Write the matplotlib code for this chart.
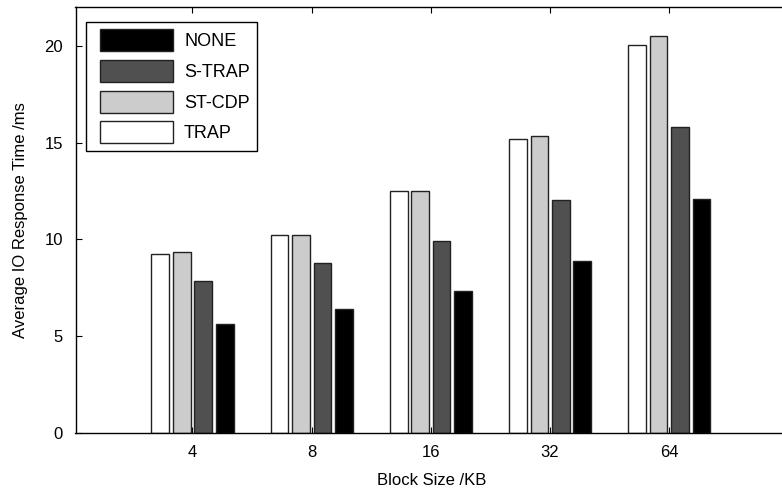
import matplotlib
matplotlib.use("Agg")
import matplotlib.pyplot as plt
from matplotlib.patches import Rectangle
from matplotlib.legend_handler import HandlerPatch
import numpy as np

plt.rcParams['font.family'] = ['Liberation Sans', 'DejaVu Sans']

categories = ["4", "8", "16", "32", "64"]
series_names = ["TRAP", "ST-CDP", "S-TRAP", "NONE"]
trap = [9.25, 10.2, 12.5, 15.2, 20.05]
st_cdp = [9.33, 10.2, 12.5, 15.37, 20.5]
s_trap = [7.82, 8.78, 9.92, 12.04, 15.8]
none = [5.64, 6.38, 7.35, 8.9, 12.1]
values = [trap, st_cdp, s_trap, none]
colors = ["#ffffff", "#cccccc", "#505050", "#000000"]

W, H = 782, 490
unit = 119.2          # px per category
x0_px = 192.5         # px of first category centre
left_px = 75.5
xmin = (left_px - x0_px) / unit
xmax = 5.0
fig = plt.figure(figsize=(W / 100, H / 100), dpi=100)
ax = fig.add_axes([left_px / W, (H - 432.7) / H, (xmax - xmin) * unit / W, (432.7 - 7.3) / H])

x = np.arange(len(categories))
pitch = 0.18
width = 0.148
handles = {}
for i, (name, vals, col) in enumerate(zip(series_names, values, colors)):
    off = (i - 1.5) * pitch
    b = ax.bar(x + off, vals, width=width, color=col, edgecolor="#222222",
               linewidth=1.0, label=name, zorder=2)
    handles[name] = b

ax.set_xlim(xmin, xmax)
ax.set_ylim(0, 22)
ax.set_xticks(x)
ax.set_xticklabels(categories)
ax.set_yticks([0, 5, 10, 15, 20])
ax.tick_params(direction='in', length=4, width=0.8, top=True, labelsize=12)
ax.tick_params(axis='x', pad=9)
ax.tick_params(axis='y', pad=9)
ax.spines['right'].set_visible(False)
for s in ['left', 'top', 'bottom']:
    ax.spines[s].set_linewidth(1.0)

ax.set_xlabel("Block Size /KB", fontsize=12, labelpad=9)
ax.set_ylabel("Average IO Response Time /ms", fontsize=12, labelpad=12)

shift_pt = 5.0


def shifted_patch(legend, orig_handle, xdescent, ydescent, width, height, fontsize):
    return Rectangle((-xdescent + shift_pt, -ydescent), width - shift_pt, height)


order = ["NONE", "S-TRAP", "ST-CDP", "TRAP"]
leg = ax.legend([handles[n].patches[0] for n in order], order, loc='upper left',
                bbox_to_anchor=(86 / W, 1 - 22 / H), bbox_transform=fig.transFigure,
                borderaxespad=0, fontsize=13, handlelength=4.43, handleheight=1.5,
                labelspacing=0.48, handletextpad=0.6, borderpad=0.4,
                fancybox=False, framealpha=1, edgecolor='black',
                handler_map={Rectangle: HandlerPatch(patch_func=shifted_patch)})
leg.get_frame().set_linewidth(1.0)

fig.savefig("out.png", dpi=100)
